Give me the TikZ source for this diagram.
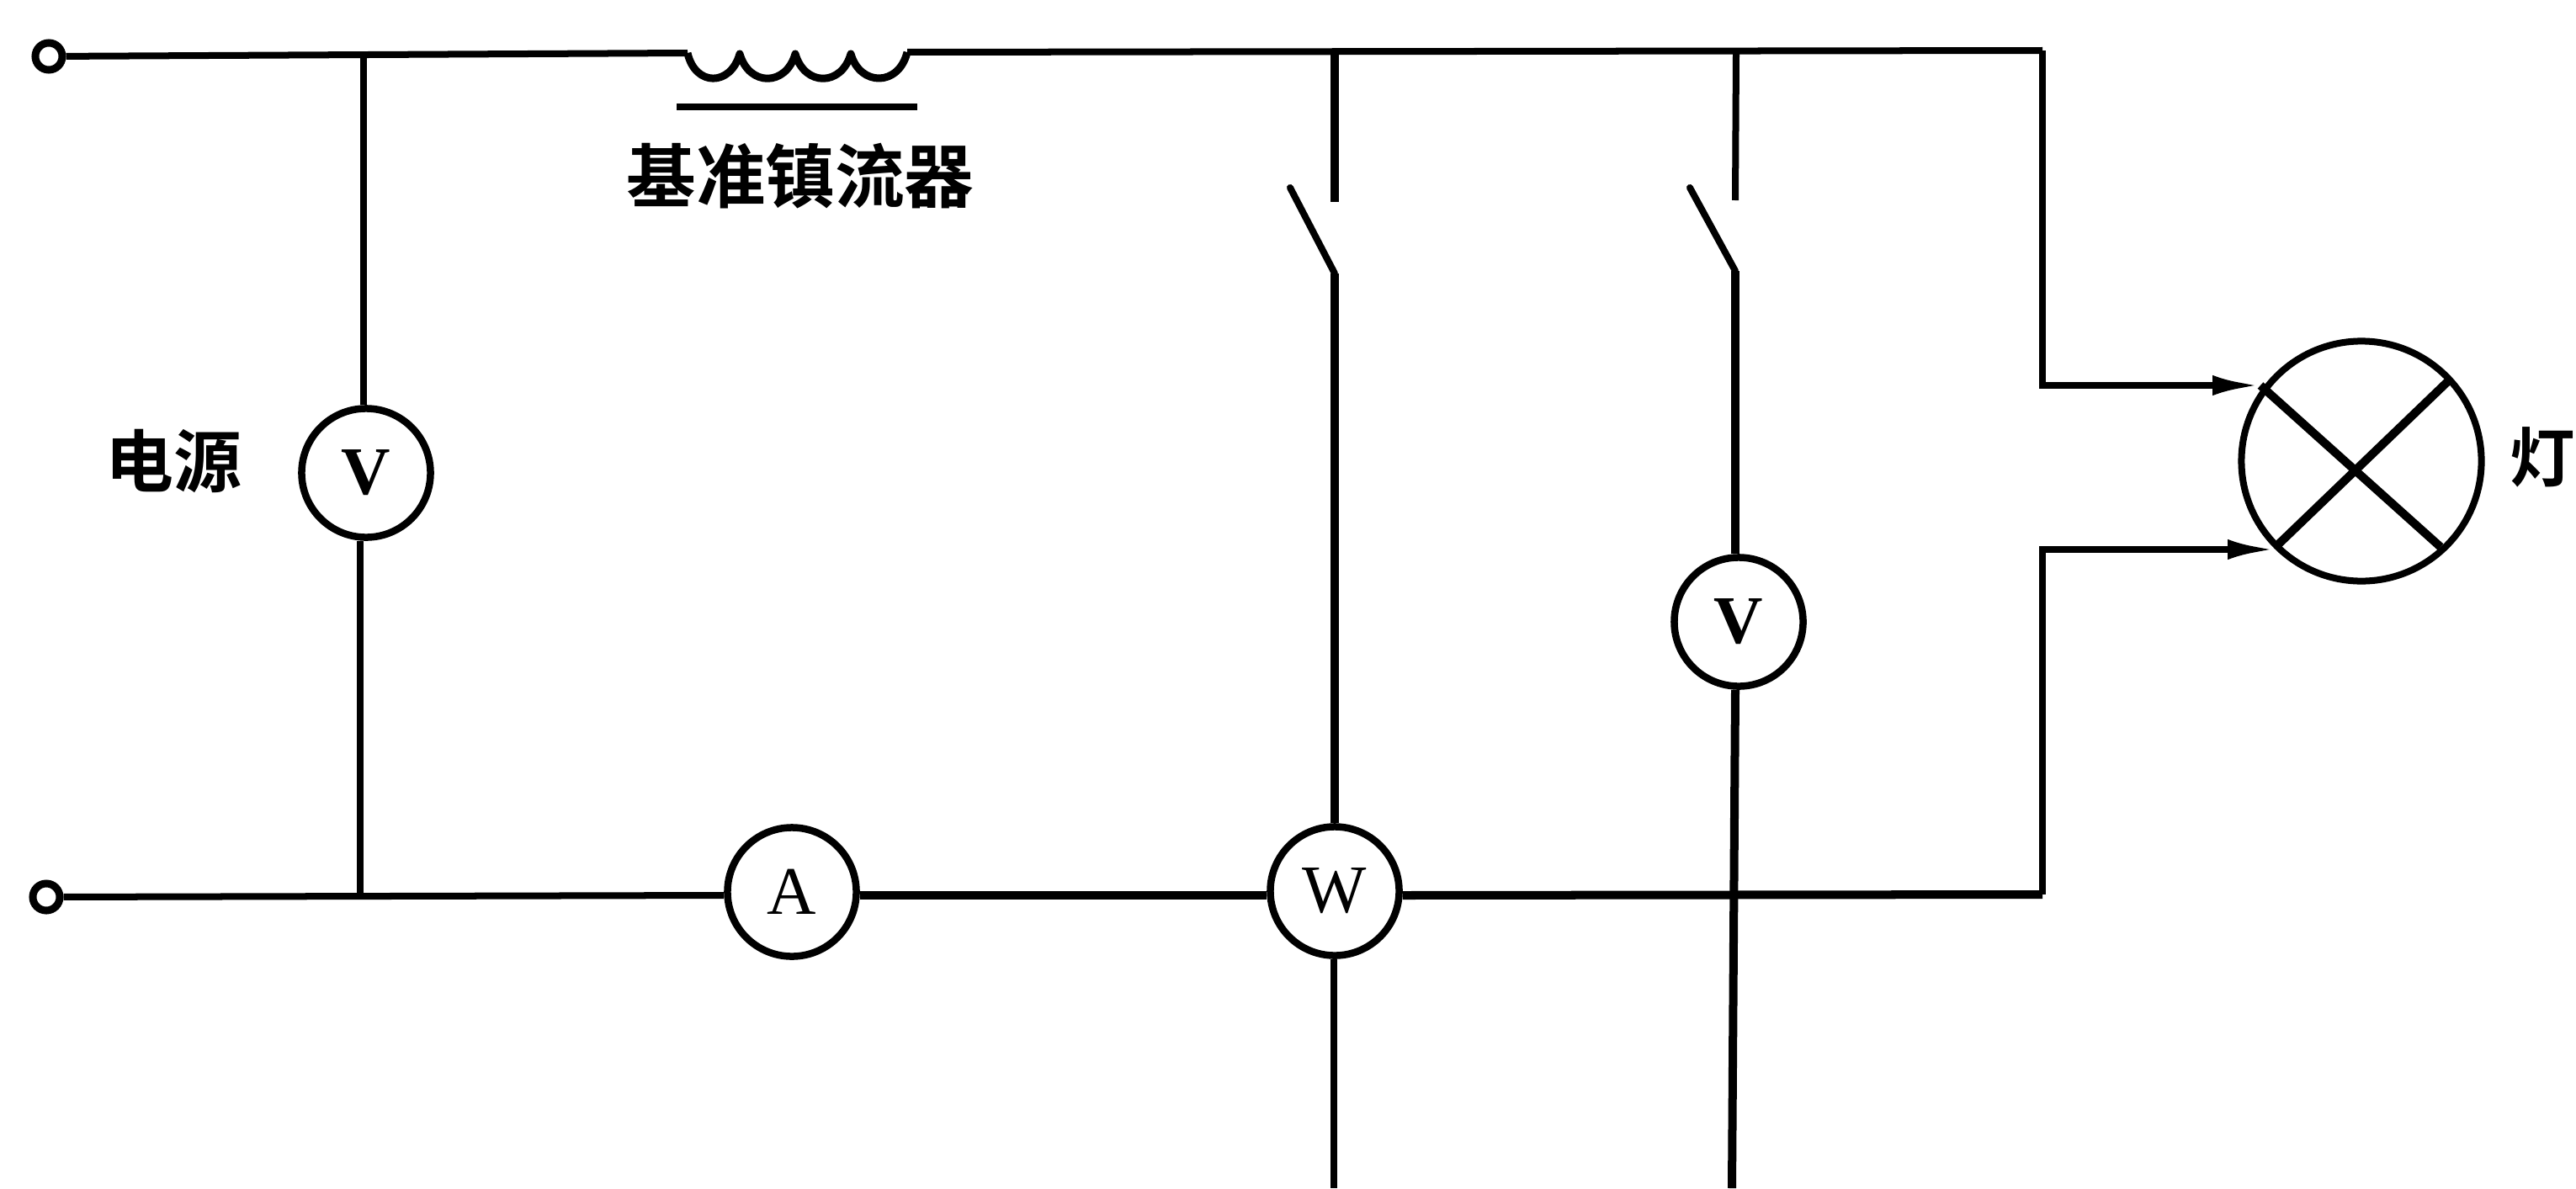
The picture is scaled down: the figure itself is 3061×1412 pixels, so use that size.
\documentclass[tikz,border=0pt]{standalone}
\usepackage{fontspec}
\newfontfamily\cjk{Noto Sans CJK SC}[BoldFont={Noto Sans CJK SC Bold}]
\setmainfont{Liberation Serif}
\usetikzlibrary{arrows.meta,calc}
\tikzset{
  wire/.style={line width=0.08cm,line cap=butt,line join=miter},
  heavywire/.style={wire,line width=0.1cm},
  coilwire/.style={wire,line width=0.09cm,line join=round},
  meter/.style={circle,draw,line width=0.085cm,fill=white,minimum size=1.53cm,inner sep=0pt,font=\fontsize{23}{23}\selectfont},
  terminal/.style={circle,draw,line width=0.09cm,fill=white,minimum size=0.32cm,inner sep=0pt},
  lampbody/.style={circle,draw,line width=0.08cm,minimum size=2.85cm,inner sep=0pt},
  label/.style={font=\cjk\fontsize{22}{22}\selectfont\bfseries,inner sep=0pt},
  feed/.style={wire,-{Latex[length=0.57cm,width=0.24cm]}}
}
\begin{document}
\begin{tikzpicture}[x=0.01cm,y=-0.01cm]
\useasboundingbox (0,0) rectangle (3061,1412);
% nodes
\node[lampbody] (lamp) at (2806,548) {};
\node[terminal] (t1) at (58,67) {};
\node[terminal] (t2) at (55,1066) {};
\node[meter] (V1) at (435,562) {\raisebox{-0.05cm}{\bfseries V}};
\node[meter] (A) at (941,1060) {A};
\node[meter] (W) at (1586,1059) {W};
\node[meter] (V2) at (2066,739) {\raisebox{-0.03cm}{\bfseries V}};
\node[label,font=\cjk\fontsize{23.5}{23.5}\selectfont\bfseries] (lblB) at (951,209) {基准镇流器};
\node[label,font=\cjk\fontsize{23}{23}\selectfont\bfseries] (lblS) at (206,548) {电源};
\node[label] (lblL) at (3021,543) {灯};
% junctions
\coordinate (LA) at (817,63);
\coordinate (LB) at (1078,62);
\coordinate (J1) at (432,63);
\coordinate (J2) at (1586,62);
\coordinate (J3) at (2063,62);
\coordinate (R1) at (2427,60);
\coordinate (J4) at (428,1065);
\coordinate (R2) at (2427,1063);
\coordinate (BW) at (1200,1064);
\coordinate (S1a) at (1586,240);
\coordinate (S1b) at (1586,325);
\coordinate (S1c) at (1533,223);
\coordinate (S2a) at (2062,238);
\coordinate (S2b) at (2062,322);
\coordinate (S2c) at (2008,223);
\coordinate (TU) at (2686,458);
\coordinate (TL) at (2704,653);
\coordinate (B1) at (1585,1412);
\coordinate (B2) at (2058,1412);
\coordinate (BarL) at (804,127);
\coordinate (BarR) at (1090,127);
\coordinate (XUL) at (2686,458);
\coordinate (XLR) at (2900,650);
\coordinate (XUR) at (2910,452);
\coordinate (XLL) at (2704,650);
% top wire and choke
\draw[wire] (t1) -- (LA);
\draw[coilwire] (LA) .. controls (826,103) and (868,103) .. (879,64)
  .. controls (890,103) and (934,103) .. (945,64)
  .. controls (956,103) and (1000,103) .. (1011,64)
  .. controls (1022,103) and (1068,103) .. (1078,62);
\draw[wire] (LB) -- (R1);
\draw[wire] (BarL) -- (BarR);
% branches
\draw[wire] (J1) -- (J1 |- V1.north);
\draw[wire] (J4 |- V1.south) -- (J4);
\draw[heavywire] (J2) -- (S1a);
\draw[heavywire] (S1b) -- (S1b |- W.north);
\draw[wire,line cap=round] (S1c) -- (S1b);
\draw[wire] (J3) -- (S2a);
\draw[heavywire] (S2b) -- (S2b |- V2.north);
\draw[wire,line cap=round] (S2c) -- (S2b);
\draw[heavywire] (S2b |- V2.south) -- (B2);
\draw[wire] (B1 |- W.south) -- (B1);
% bottom wire
\draw[wire] (t2) -- (BW -| A.west);
\draw[heavywire] (BW -| A.east) -- (BW -| W.west);
\draw[heavywire] (BW -| W.east) -- (R2);
% feeds to lamp
\draw[feed] (R1) |- (TU);
\draw[feed] (R2) |- (TL);
% cross
\draw[heavywire] (XUL) -- (XLR);
\draw[heavywire] (XUR) -- (XLL);
\end{tikzpicture}
\end{document}
